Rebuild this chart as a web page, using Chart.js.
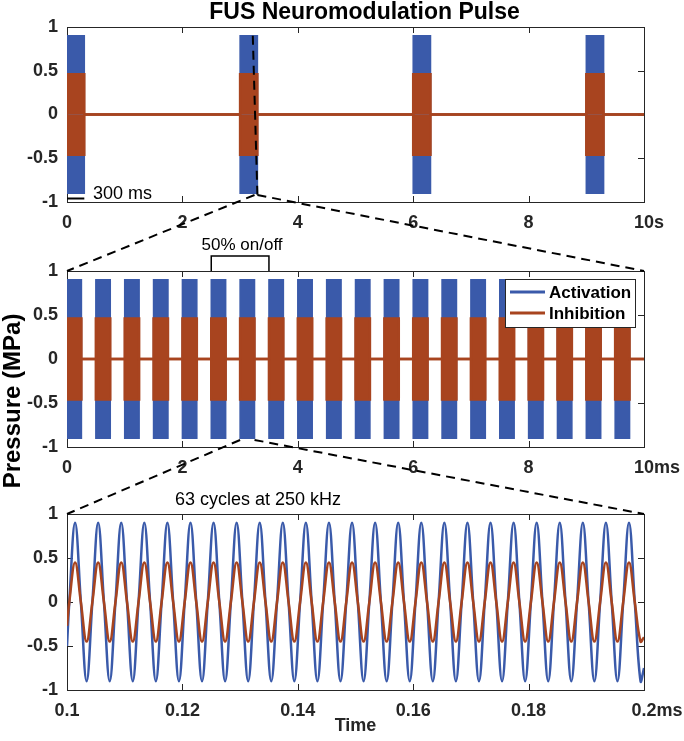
<!DOCTYPE html>
<html>
<head>
<meta charset="utf-8">
<script src="https://cdn.jsdelivr.net/npm/chart.js@4.4.1/dist/chart.umd.min.js"></script>
<style>
  html, body { margin: 0; padding: 0; background: #fff; }
  #wrap { position: relative; width: 684px; height: 741px; }
  #wrap canvas { position: absolute; left: 0; }
</style>
</head>
<body>
<div id="wrap">
  <canvas id="pulseChart" width="684" height="230" style="top:0"></canvas>
  <canvas id="burstChart" width="684" height="250" style="top:230px"></canvas>
  <canvas id="waveChart" width="684" height="261" style="top:480px"></canvas>
  <canvas id="overlay" width="684" height="741" style="top:0"></canvas>
</div>
<script>
// pulses in the 10 s window (s)
const pulseStart = [0, 3, 6, 9];
const pulseEnd = [0.3, 3.3, 6.3, 9.3];

// 50% on/off bursts in the 10 ms window (ms)
const burstStart = [0, 0.5, 1, 1.5, 2, 2.5, 3, 3.5, 4, 4.5, 5, 5.5, 6, 6.5, 7, 7.5, 8, 8.5, 9, 9.5];
const burstEnd = [0.25, 0.75, 1.25, 1.75, 2.25, 2.75, 3.25, 3.75, 4.25, 4.75, 5.25, 5.75, 6.25, 6.75, 7.25, 7.75, 8.25, 8.75, 9.25, 9.75];

// peak pressure (MPa)
const activationPeak = 0.9;
const inhibitionPeak = 0.46;

// 250 kHz carrier between 0.1 and 0.2 ms: crossings, peaks and troughs (ms)
const waveTime = [
  0.1,
  0.1004, 0.1014, 0.1024, 0.1034, 0.1044, 0.1054, 0.1064, 0.1074, 0.1084, 0.1094,
  0.1104, 0.1114, 0.1124, 0.1134, 0.1144, 0.1154, 0.1164, 0.1174, 0.1184, 0.1194,
  0.1204, 0.1214, 0.1224, 0.1234, 0.1244, 0.1254, 0.1264, 0.1274, 0.1284, 0.1294,
  0.1304, 0.1314, 0.1324, 0.1334, 0.1344, 0.1354, 0.1364, 0.1374, 0.1384, 0.1394,
  0.1404, 0.1414, 0.1424, 0.1434, 0.1444, 0.1454, 0.1464, 0.1474, 0.1484, 0.1494,
  0.1504, 0.1514, 0.1524, 0.1534, 0.1544, 0.1554, 0.1564, 0.1574, 0.1584, 0.1594,
  0.1604, 0.1614, 0.1624, 0.1634, 0.1644, 0.1654, 0.1664, 0.1674, 0.1684, 0.1694,
  0.1704, 0.1714, 0.1724, 0.1734, 0.1744, 0.1754, 0.1764, 0.1774, 0.1784, 0.1794,
  0.1804, 0.1814, 0.1824, 0.1834, 0.1844, 0.1854, 0.1864, 0.1874, 0.1884, 0.1894,
  0.1904, 0.1914, 0.1924, 0.1934, 0.1944, 0.1954, 0.1964, 0.1974, 0.1984, 0.1994,
  0.2
];
const activationWave = [
  -0.5,
  0, 0.9, 0, -0.9, 0, 0.9, 0, -0.9, 0, 0.9,
  0, -0.9, 0, 0.9, 0, -0.9, 0, 0.9, 0, -0.9,
  0, 0.9, 0, -0.9, 0, 0.9, 0, -0.9, 0, 0.9,
  0, -0.9, 0, 0.9, 0, -0.9, 0, 0.9, 0, -0.9,
  0, 0.9, 0, -0.9, 0, 0.9, 0, -0.9, 0, 0.9,
  0, -0.9, 0, 0.9, 0, -0.9, 0, 0.9, 0, -0.9,
  0, 0.9, 0, -0.9, 0, 0.9, 0, -0.9, 0, 0.9,
  0, -0.9, 0, 0.9, 0, -0.9, 0, 0.9, 0, -0.9,
  0, 0.9, 0, -0.9, 0, 0.9, 0, -0.9, 0, 0.9,
  0, -0.9, 0, 0.9, 0, -0.9, 0, 0.9, 0, -0.9,
  -0.75
];
const inhibitionWave = [
  -0.27,
  0, 0.45, 0, -0.45, 0, 0.45, 0, -0.45, 0, 0.45,
  0, -0.45, 0, 0.45, 0, -0.45, 0, 0.45, 0, -0.45,
  0, 0.45, 0, -0.45, 0, 0.45, 0, -0.45, 0, 0.45,
  0, -0.45, 0, 0.45, 0, -0.45, 0, 0.45, 0, -0.45,
  0, 0.45, 0, -0.45, 0, 0.45, 0, -0.45, 0, 0.45,
  0, -0.45, 0, 0.45, 0, -0.45, 0, 0.45, 0, -0.45,
  0, 0.45, 0, -0.45, 0, 0.45, 0, -0.45, 0, 0.45,
  0, -0.45, 0, 0.45, 0, -0.45, 0, 0.45, 0, -0.45,
  0, 0.45, 0, -0.45, 0, 0.45, 0, -0.45, 0, 0.45,
  0, -0.45, 0, 0.45, 0, -0.45, 0, 0.45, 0, -0.45,
  -0.4
];

const seriesNames = ['Activation', 'Inhibition'];
const pressureTicks = [-1, -0.5, 0, 0.5, 1];
const secondTicks = [0, 2, 4, 6, 8, 10];
const msTicks = [0, 2, 4, 6, 8, 10];
const waveTicks = [0.1, 0.12, 0.14, 0.16, 0.18, 0.2];

const actColor = '#3a5aaa';
const inhColor = '#a8441f';
const axisColor = '#262626';
const fontFamily = '"Liberation Sans", Arial, Helvetica, sans-serif';
const fmt = v => String(+Number(v).toFixed(3));

// stepped outline of a train of blocks at +/- amp, zero in between
function envelope(starts, ends, amp, xmax) {
  const pts = [{x: 0, y: 0}];
  starts.forEach((s, i) => {
    pts.push({x: s, y: 0}, {x: s, y: amp}, {x: ends[i], y: amp}, {x: ends[i], y: 0});
  });
  pts.push({x: xmax, y: 0});
  return pts;
}

function blockSets(starts, ends, xmax) {
  const base = {pointRadius: 0, tension: 0, fill: 'origin', borderJoinStyle: 'miter'};
  return [
    {...base, label: seriesNames[1], data: envelope(starts, ends, inhibitionPeak, xmax), borderColor: inhColor, backgroundColor: inhColor, borderWidth: 2.5, order: 0},
    {...base, label: seriesNames[1], data: envelope(starts, ends, -inhibitionPeak, xmax), borderColor: inhColor, backgroundColor: inhColor, borderWidth: 2.5, order: 1},
    {...base, label: seriesNames[0], data: envelope(starts, ends, activationPeak, xmax), borderColor: actColor, backgroundColor: actColor, borderWidth: 1.5, order: 2},
    {...base, label: seriesNames[0], data: envelope(starts, ends, -activationPeak, xmax), borderColor: actColor, backgroundColor: actColor, borderWidth: 1.5, order: 3}
  ];
}

// box and inward ticks, under the data like MATLAB
const frame = {
  id: 'frame',
  beforeDatasetsDraw(chart) {
    const {ctx, chartArea: a, scales: {x, y}} = chart;
    ctx.save();
    ctx.strokeStyle = axisColor;
    ctx.lineWidth = 1;
    ctx.beginPath();
    x.ticks.forEach(t => {
      const px = Math.round(x.getPixelForValue(t.value)) + 0.5;
      ctx.moveTo(px, a.bottom); ctx.lineTo(px, a.bottom - 6);
      ctx.moveTo(px, a.top); ctx.lineTo(px, a.top + 6);
    });
    y.ticks.forEach(t => {
      const py = Math.round(y.getPixelForValue(t.value)) + 0.5;
      ctx.moveTo(a.left, py); ctx.lineTo(a.left + 6, py);
      ctx.moveTo(a.right, py); ctx.lineTo(a.right - 6, py);
    });
    ctx.stroke();
    ctx.strokeRect(Math.round(a.left) + 0.5, Math.round(a.top) + 0.5, Math.round(a.right - a.left), Math.round(a.bottom - a.top));
    ctx.restore();
  }
};

function axes(ticks, xmin, xmax, xh, extra) {
  const tickFont = {family: fontFamily, size: 18, weight: 'bold'};
  return {
    x: Object.assign({
      type: 'linear', min: xmin, max: xmax,
      afterBuildTicks: s => { s.ticks = ticks.map(v => ({value: v})); },
      afterFit: s => { s.height = xh; },
      grid: {display: false, drawTicks: false}, border: {display: false},
      ticks: {font: tickFont, color: axisColor, padding: 10, maxRotation: 0, callback: fmt}
    }, extra || {}),
    y: {
      min: -1, max: 1,
      afterBuildTicks: s => { s.ticks = pressureTicks.map(v => ({value: v})); },
      afterFit: s => { s.width = 67; },
      grid: {display: false, drawTicks: false}, border: {display: false},
      ticks: {font: tickFont, color: axisColor, padding: 9, callback: fmt}
    }
  };
}

function baseOptions(padTop, scales) {
  return {
    responsive: false, animation: false, devicePixelRatio: 1, events: [],
    layout: {padding: {left: 0, right: 40, top: padTop, bottom: 0}},
    plugins: {legend: {display: false}, tooltip: {enabled: false}},
    scales: scales
  };
}

const titlePlugin = {
  id: 'mainTitle',
  afterDraw(chart) {
    const {ctx, chartArea: a} = chart;
    ctx.save();
    ctx.font = 'bold 23px ' + fontFamily;
    ctx.fillStyle = '#000';
    ctx.textAlign = 'center';
    ctx.textBaseline = 'alphabetic';
    ctx.fillText('FUS Neuromodulation Pulse', (a.left + a.right) / 2 + 9, 19);
    ctx.restore();
  }
};

// 300 ms scale bar in the first panel
const scaleBar = {
  id: 'scaleBar',
  afterDatasetsDraw(chart) {
    const {ctx, scales: {x, y}} = chart;
    ctx.save();
    ctx.strokeStyle = '#000';
    ctx.lineWidth = 2;
    ctx.beginPath();
    ctx.moveTo(x.getPixelForValue(0), y.getPixelForValue(-0.96));
    ctx.lineTo(x.getPixelForValue(0.3), y.getPixelForValue(-0.96));
    ctx.stroke();
    ctx.font = '18px ' + fontFamily;
    ctx.fillStyle = '#000';
    ctx.textBaseline = 'middle';
    ctx.fillText('300 ms', x.getPixelForValue(0.45), y.getPixelForValue(-0.91));
    ctx.restore();
  }
};

// duty-cycle bracket and legend in the second panel
const burstNotes = {
  id: 'burstNotes',
  afterDraw(chart) {
    const {ctx, chartArea: a, scales: {x}} = chart;
    ctx.save();
    const x0 = x.getPixelForValue(2.5), x1 = x.getPixelForValue(3.5);
    ctx.strokeStyle = '#000';
    ctx.lineWidth = 1.5;
    ctx.beginPath();
    ctx.moveTo(x0, a.top);
    ctx.lineTo(x0, a.top - 15);
    ctx.lineTo(x1, a.top - 15);
    ctx.lineTo(x1, a.top);
    ctx.stroke();
    ctx.font = '17px ' + fontFamily;
    ctx.fillStyle = '#000';
    ctx.textAlign = 'center';
    ctx.textBaseline = 'middle';
    ctx.fillText('50% on/off', (x0 + x1) / 2 + 2, a.top - 26);

    // legend box
    const bw = 130, bh = 48;
    const bx = a.right - 9 - bw, by = a.top + 8;
    ctx.fillStyle = '#fff';
    ctx.fillRect(bx, by, bw, bh);
    ctx.strokeStyle = axisColor;
    ctx.lineWidth = 1;
    ctx.strokeRect(Math.round(bx) + 0.5, Math.round(by) + 0.5, bw, bh);
    ctx.font = 'bold 17px ' + fontFamily;
    ctx.textAlign = 'left';
    [[seriesNames[0], actColor, 13], [seriesNames[1], inhColor, 34]].forEach(([name, col, dy]) => {
      ctx.strokeStyle = col;
      ctx.lineWidth = 3;
      ctx.beginPath();
      ctx.moveTo(bx + 5, by + dy);
      ctx.lineTo(bx + 40, by + dy);
      ctx.stroke();
      ctx.fillStyle = '#000';
      ctx.fillText(name, bx + 44, by + dy + 1);
    });
    ctx.restore();
  }
};

const waveNote = {
  id: 'waveNote',
  afterDraw(chart) {
    const {ctx, chartArea: a, scales: {x}} = chart;
    ctx.save();
    ctx.font = '18px ' + fontFamily;
    ctx.fillStyle = '#000';
    ctx.textAlign = 'left';
    ctx.textBaseline = 'middle';
    ctx.fillText('63 cycles at 250 kHz', x.getPixelForValue(0.1187), a.top - 14);
    ctx.restore();
  }
};

const pulseChart = new Chart(document.getElementById('pulseChart'), {
  type: 'line',
  data: {datasets: blockSets(pulseStart, pulseEnd, 10)},
  options: baseOptions(27, axes(secondTicks, 0, 10, 28)),
  plugins: [frame, titlePlugin, scaleBar]
});

const burstChart = new Chart(document.getElementById('burstChart'), {
  type: 'line',
  data: {datasets: blockSets(burstStart, burstEnd, 10)},
  options: baseOptions(41, axes(msTicks, 0, 10, 33)),
  plugins: [frame, burstNotes]
});

const waveScales = axes(waveTicks, 0.1, 0.2, 51, {
  title: {display: true, text: 'Time', color: axisColor, padding: {top: 0, bottom: 4},
    font: {family: fontFamily, size: 18, weight: 'bold'}}
});
const waveChart = new Chart(document.getElementById('waveChart'), {
  type: 'line',
  data: {datasets: [
    {label: seriesNames[1], data: waveTime.map((t, i) => ({x: t, y: inhibitionWave[i]})),
      borderColor: inhColor, borderWidth: 2.5, pointRadius: 0, tension: 0.4, order: 0},
    {label: seriesNames[0], data: waveTime.map((t, i) => ({x: t, y: activationWave[i]})),
      borderColor: actColor, borderWidth: 2.5, pointRadius: 0, tension: 0.4, order: 1}
  ]},
  options: baseOptions(34, waveScales),
  plugins: [frame, waveNote]
});

// page-level marks: zoom connectors, shared y label, axis units
const charts = [[pulseChart, 0, 's'], [burstChart, 230, 'ms'], [waveChart, 480, 'ms']];
const ov = document.getElementById('overlay').getContext('2d');
function pt(i, xv, yv) {
  const [c, top] = charts[i];
  return [c.scales.x.getPixelForValue(xv), top + c.scales.y.getPixelForValue(yv)];
}
function dashed(p, q) {
  ov.beginPath();
  ov.moveTo(p[0], p[1]);
  ov.lineTo(q[0], q[1]);
  ov.stroke();
}
ov.save();
ov.strokeStyle = '#000';
ov.lineWidth = 2;
ov.setLineDash([9, 6]);
dashed(pt(0, 3.22, 0.9), pt(0, 3.3, -0.92));
dashed(pt(0, 3.25, -0.92), pt(1, 0, 1));
dashed(pt(0, 3.3, -0.92), pt(1, 10, 1));
dashed(pt(1, 3.0, -0.92), pt(2, 0.1, 1));
dashed(pt(1, 3.25, -0.92), pt(2, 0.2, 1));
ov.restore();

// y label sits a little below the middle panel's centre
ov.save();
const midY = pt(1, 0, 0)[1];
ov.translate(13, midY + 42);
ov.rotate(-Math.PI / 2);
ov.font = 'bold 24px ' + fontFamily;
ov.fillStyle = '#000';
ov.textAlign = 'center';
ov.textBaseline = 'middle';
ov.fillText('Pressure (MPa)', 0, 0);
ov.restore();

ov.save();
ov.font = 'bold 18px ' + fontFamily;
ov.fillStyle = axisColor;
ov.textBaseline = 'middle';
charts.forEach(([c, top, unit]) => {
  const x = c.scales.x;
  const last = x.ticks[x.ticks.length - 1];
  const px = x.getPixelForValue(last.value) + ov.measureText(fmt(last.value)).width / 2;
  ov.fillText(unit, px, top + c.chartArea.bottom + 10 + 10.8);
});
ov.restore();
</script>
</body>
</html>
